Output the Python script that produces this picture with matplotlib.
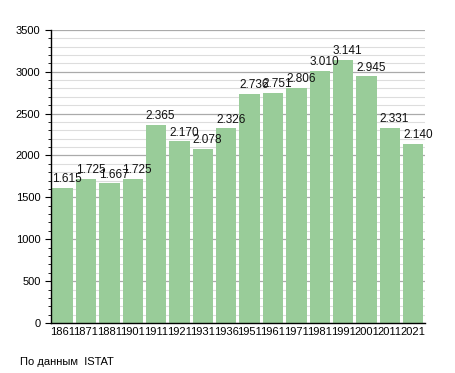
import matplotlib.pyplot as plt
from matplotlib.ticker import MultipleLocator

plt.rcParams['font.family'] = ['Liberation Sans', 'DejaVu Sans']

# data
years = ['1861', '1871', '1881', '1901', '1911', '1921', '1931', '1936',
         '1951', '1961', '1971', '1981', '1991', '2001', '2011', '2021']
population = [1615, 1725, 1667, 1725, 2365, 2170, 2078, 2326,
              2736, 2751, 2806, 3010, 3141, 2945, 2331, 2140]

fig = plt.figure(figsize=(4.55, 3.73), dpi=100)
ax = fig.add_axes([0.112, 0.134, 0.822, 0.786])

x = range(len(years))
bars = ax.bar(x, population, width=0.87, color='#99cc99', zorder=2)

# value labels, italian style thousands separator
for xi, v in zip(x, population):
    lbl = '{:,}'.format(v).replace(',', '.')
    ax.text(xi - 0.44, v + 30, lbl, ha='left', va='bottom', fontsize=8.5,
            color='#111111', zorder=3)

ax.set_xlim(-0.5, len(years) - 0.5)
ax.set_ylim(0, 3500)
ax.set_xticks(list(x))
ax.set_xticklabels(years, fontsize=8)
ax.yaxis.set_major_locator(MultipleLocator(500))
ax.yaxis.set_minor_locator(MultipleLocator(100))
ax.tick_params(axis='y', which='major', labelsize=8, length=4, direction='out')
ax.tick_params(axis='y', which='minor', length=2, direction='out')
ax.tick_params(axis='x', length=0, pad=3)

ax.grid(axis='y', which='major', color='#aaaaaa', linewidth=0.9, zorder=0)
ax.grid(axis='y', which='minor', color='#dddddd', linewidth=0.8, zorder=0)
ax.set_axisbelow(True)

for s in ['top', 'right']:
    ax.spines[s].set_visible(False)
ax.spines['left'].set_linewidth(1)
ax.spines['bottom'].set_linewidth(1)

fig.text(0.044, 0.015, 'По данным  ISTAT', fontsize=8, ha='left', va='bottom')

fig.savefig('out.png', dpi=100)
